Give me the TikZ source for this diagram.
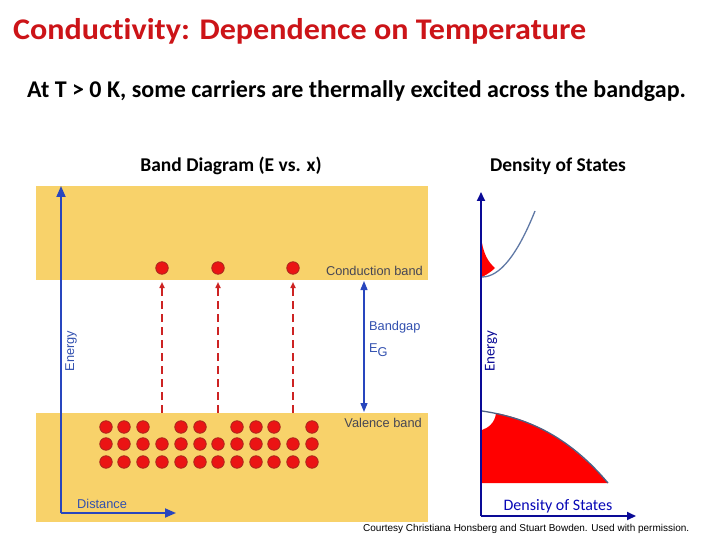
\documentclass[tikz,border=0pt]{standalone}
\usepackage{fontspec}
\setmainfont{Carlito}[Ligatures=NoCommon]
\newfontfamily\arialf{Liberation Sans}
\usetikzlibrary{arrows.meta}
\definecolor{bandyel}{RGB}{248,210,106}
\definecolor{titred}{RGB}{204,20,24}
\definecolor{axblue}{RGB}{40,70,190}
\definecolor{axnavy}{RGB}{10,10,150}
\definecolor{lblgray}{RGB}{70,70,85}
\definecolor{lblblue}{RGB}{50,80,175}
\definecolor{dotred}{RGB}{235,20,20}
\definecolor{dotedge}{RGB}{170,40,30}
\definecolor{curveblue}{RGB}{95,120,165}
\definecolor{dashred}{RGB}{205,35,35}
\tikzset{
  dot/.style={circle,fill=dotred,draw=dotedge,line width=0.8pt,minimum size=12.5pt,inner sep=0pt},
  smalllbl/.style={font=\arialf\fontsize{12.8}{14}\selectfont,text=lblgray,inner sep=0pt},
  bluelbl/.style={font=\arialf\fontsize{12.8}{14}\selectfont,text=lblblue,inner sep=0pt},
  heading/.style={anchor=base,inner sep=0pt,font=\bfseries\fontsize{19.5}{22}\selectfont},
  axisarrow/.style={draw=axblue,line width=1.8pt,-{Triangle[length=11pt,width=9pt]}},
  dasharrow/.style={draw=dashred,line width=1.8pt,dash pattern=on 8pt off 5pt,-{Triangle[length=6pt,width=5pt]}},
  gaparrow/.style={draw=axblue,line width=1.3pt,{Triangle[length=9pt,width=7pt]}-{Triangle[length=9pt,width=7pt]}},
}
\begin{document}
\begin{tikzpicture}[x=1pt,y=-1pt]
\useasboundingbox (0,0) rectangle (720,540);
% titles
\node[anchor=base west,inner sep=0pt,text=titred,font=\bfseries\fontsize{30}{32}\selectfont] (title) at (13,40) {\scalebox{1.07}[1]{Conduc\kern0pt tivity: Dependence on Temperature}};
\node[anchor=base west,inner sep=0pt,font=\bfseries\fontsize{24}{26}\selectfont] (sub) at (27,98) {At T > 0 K, some carriers are thermally excited across the bandgap.};
\node[heading] (bdlbl) at (231,172) {Band Diagram (E vs. x)};
\node[heading] (doslbl) at (558,172) {Density of States};
% bands
\fill[bandyel] (36,186) rectangle (428,280);
\fill[bandyel] (36,413) rectangle (428,522);
% axes
\coordinate (o) at (61,513);
\coordinate (etop) at (61,186);
\coordinate (dend) at (176,513);
\draw[axisarrow] (o) -- (etop);
\draw[axisarrow] (o) -- (dend);
\node[bluelbl,rotate=90] (elbl) at (71,351) {Energy};
\node[smalllbl,text=lblblue,anchor=base west] (dlbl) at (77,508) {Distance};
% conduction electrons
\foreach \x/\n in {162/c1,218/c2,293/c3} {
  \node[dot] (\n) at (\x,268) {};
  \coordinate (\n s) at (\x,413);
  \coordinate (\n t) at (\x,282);
  \draw[dasharrow] (\n s) -- (\n t);
}
% valence electrons
\foreach \x in {106,124,143,181,200,237,256,274,312} \node[dot] at (\x,427) {};
\foreach \y in {444,462} \foreach \x in {106,124,143,162,181,200,218,237,256,274,293,312} \node[dot] at (\x,\y) {};
% bandgap
\coordinate (gtop) at (364,281);
\coordinate (gbot) at (364,412);
\draw[gaparrow] (gbot) -- (gtop);
\node[bluelbl,anchor=west] (bglbl) at (369,327) {Bandgap};
\node[bluelbl,anchor=west] (eglbl) at (369,350) {E\raisebox{-3.5pt}{G}};
\node[smalllbl,anchor=east] (cblbl) at (423,271) {Conduction band};
\node[smalllbl,anchor=east] (vblbl) at (422,423) {Valence band};
% DOS panel
\fill[red] (482,243) .. controls (484,254) and (488,262) .. (495,268) .. controls (492,271) and (488,274) .. (482,277) -- cycle;
\draw[curveblue,line width=1.3pt] (482,277) .. controls (499.7,277) and (517.3,255) .. (535,211);
\fill[red] (482,430) .. controls (488,428) and (495,423) .. (496,413)
  .. controls (530,420) and (565,435) .. (608,483) -- (482,483) -- cycle;
\draw[curveblue!80!black,line width=1.3pt] (482,411) .. controls (530,418) and (570,438) .. (608,483);
\coordinate (o2) at (481,516);
\coordinate (e2) at (481,192);
\coordinate (d2) at (636,516);
\draw[draw=axnavy,line width=2pt,-{Triangle[length=9pt,width=8pt]}] (o2) -- (e2);
\draw[draw=axnavy,line width=2pt,-{Triangle[length=9pt,width=8pt]}] (o2) -- (d2);
\node[rotate=90,inner sep=0pt,text=axnavy,font=\fontsize{15}{16}\selectfont] (e2lbl) at (491,351) {Energy};
\node[anchor=base,inner sep=0pt,text=axnavy!70!blue,font=\fontsize{16}{18}\selectfont] (d2lbl) at (558,510) {Density of States};
% credit
\node[anchor=base west,inner sep=0pt,font=\arialf\fontsize{10}{12}\selectfont] (credit) at (363,531) {Courtesy Christiana Honsberg and Stuart Bowden. Used with permission.};
\end{tikzpicture}
\end{document}
